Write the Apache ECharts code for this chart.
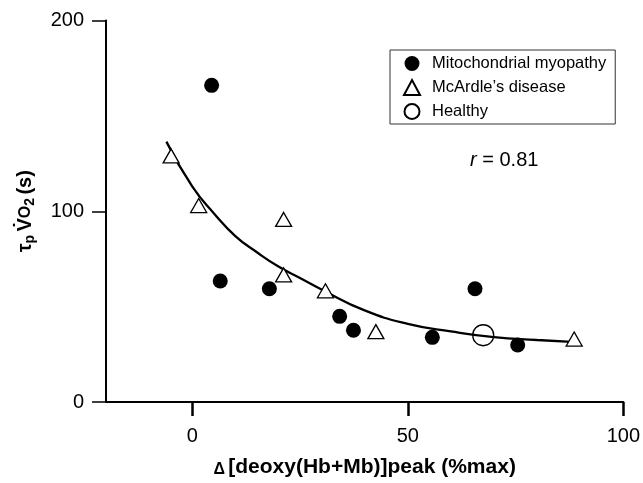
<!DOCTYPE html>
<html>
<head>
<meta charset="utf-8">
<script src="https://cdn.jsdelivr.net/npm/echarts@6/dist/echarts.min.js"></script>
<style>
html,body{margin:0;padding:0;background:#fff;}
#chart{width:643px;height:483px;}
</style>
</head>
<body>
<div id="chart"></div>
<script>
// Data
var mitoX = [4.5, 6.5, 17.9, 34.2, 37.4, 55.7, 65.6, 75.5];
var mitoY = [166, 63.4, 59.4, 44.9, 37.6, 33.9, 59.4, 29.9];
var mcaX = [-4.9, 1.5, 21.2, 21.2, 30.9, 42.6, 88.6];
var mcaY = [129, 103, 95.7, 66.6, 58.3, 36.9, 33];
var healthyX = [67.5];
var healthyY = [35];
var fitX = [-6, 0, 5, 10, 15, 20, 25, 30, 40, 50, 60, 70, 80, 88];
var fitY = [136.5, 113, 99, 87, 78.5, 71, 65, 59, 48, 41, 37, 34, 32.5, 31.5];
var xTicks = [0, 50, 100];
var yTicks = [0, 100, 200];
var seriesNames = ['Mitochondrial myopathy', "McArdle\u2019s disease", 'Healthy'];

function pairs(xs, ys){ return xs.map(function(x,i){ return [x, ys[i]]; }); }

var chart = echarts.init(document.getElementById('chart'), null, {renderer:'canvas'});
var font = '"Liberation Sans", Arial, Helvetica, sans-serif';
chart.setOption({
  animation:false,
  backgroundColor:'#fff',
  textStyle:{fontFamily:font},
  grid:{left:106, right:18, top:20.5, bottom:78},
  legend:{
    orient:'vertical', left:390, top:50,
    data:seriesNames,
    borderColor:'#333', borderWidth:1,
    padding:[5,9,4,13],
    itemGap:7, itemWidth:16, itemHeight:15,
    textStyle:{fontSize:16.5, color:'#000', fontFamily:font, padding:[0,0,0,7]}
  },
  xAxis:{
    type:'value', min:-20, max:100,
    splitLine:{show:false},
    axisLine:{onZero:false, lineStyle:{color:'#000', width:2}},
    axisTick:{length:14, lineStyle:{color:'#000', width:2.5}, customValues:xTicks},
    axisLabel:{customValues:xTicks, color:'#000', fontSize:20, margin:24, fontFamily:font},
    name:'{d|\u0394} {t|[deoxy(Hb+Mb)]peak (%max)}',
    nameLocation:'middle', nameGap:54,
    nameTextStyle:{
      color:'#000', fontFamily:font,
      rich:{
        d:{fontSize:16, fontWeight:'bold', color:'#000', fontFamily:font, verticalAlign:'bottom', padding:[6,0,0,0]},
        t:{fontSize:21, fontWeight:'bold', color:'#000', fontFamily:font}
      }
    }
  },
  yAxis:{
    type:'value', min:0, max:200, interval:100,
    splitLine:{show:false},
    axisLine:{onZero:false, lineStyle:{color:'#000', width:2}},
    axisTick:{length:14, lineStyle:{color:'#000', width:1.5}},
    axisLabel:{color:'#000', fontSize:20, margin:22, fontFamily:font, customValues:yTicks},
    name:'{t|\u03c4}{s|p} {t|V\u0307}{o|O}{s|2} {t|(s)}',
    nameLocation:'middle', nameGap:69, nameRotate:90,
    nameTextStyle:{
      color:'#000', fontFamily:font,
      rich:{
        t:{fontSize:20, fontWeight:'bold', color:'#000', fontFamily:font},
        o:{fontSize:16, fontWeight:'bold', color:'#000', fontFamily:font},
        s:{fontSize:14, fontWeight:'bold', color:'#000', fontFamily:font, verticalAlign:'bottom', padding:[9,0,0,0]}
      }
    }
  },
  graphic:[{
    type:'text', left:470, top:150,
    style:{
      rich:{
        i:{fontStyle:'italic', fontSize:20, fill:'#000', fontFamily:font},
        n:{fontSize:20, fill:'#000', fontFamily:font}
      },
      text:'{i|r}{n| = 0.81}'
    }
  }],
  series:[
    {
      name:'fit', type:'line', smooth:true, showSymbol:false, symbol:'none',
      data:pairs(fitX, fitY),
      lineStyle:{color:'#000', width:2.3}, z:1, silent:true
    },
    {
      name:seriesNames[0], type:'scatter', symbol:'circle', symbolSize:15,
      data:pairs(mitoX, mitoY),
      itemStyle:{color:'#000', opacity:1}, z:3
    },
    {
      name:seriesNames[1], type:'scatter', symbol:'triangle', symbolSize:[16,14],
      data:pairs(mcaX, mcaY),
      itemStyle:{color:'#fff', borderColor:'#000', borderWidth:1.3, opacity:1}, z:3
    },
    {
      name:seriesNames[2], type:'scatter', symbol:'circle', symbolSize:21,
      data:pairs(healthyX, healthyY),
      itemStyle:{color:'rgba(255,255,255,0)', borderColor:'#000', borderWidth:1.3, opacity:1}, z:4
    }
  ]
});
</script>
</body>
</html>
